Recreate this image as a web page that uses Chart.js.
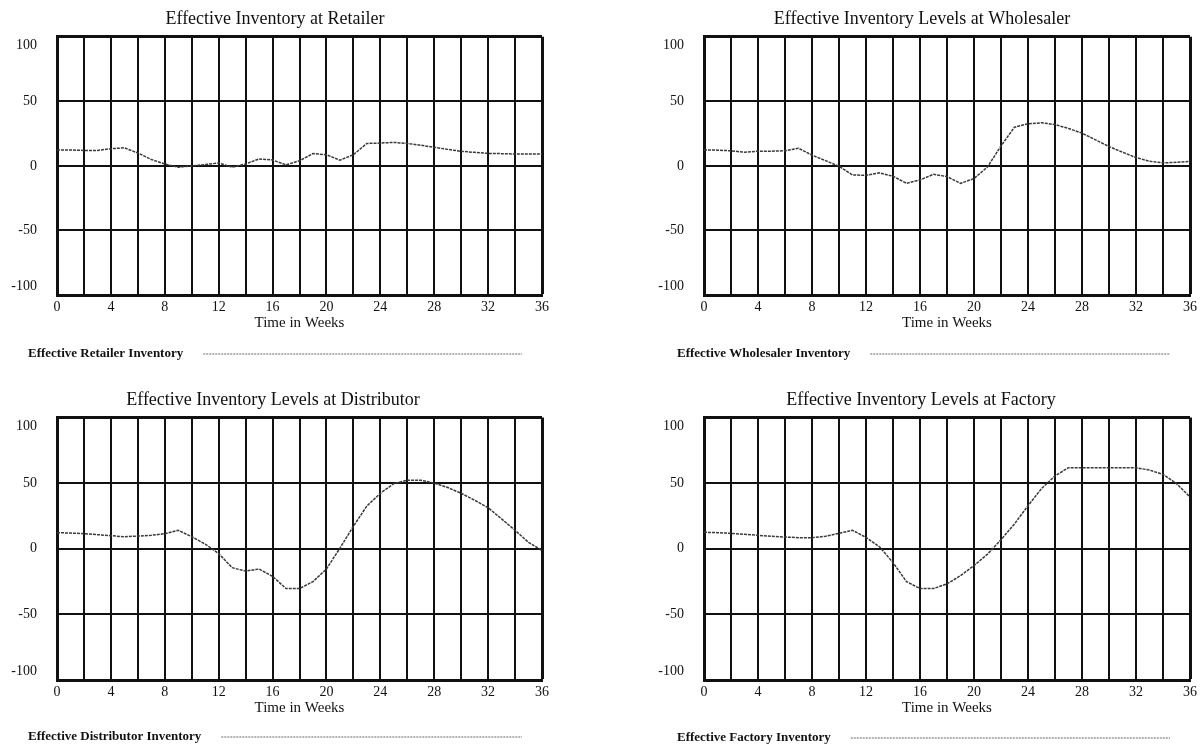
<!DOCTYPE html>
<html>
<head>
<title>Effective Inventory Levels</title>
<script src="https://cdn.jsdelivr.net/npm/chart.js"></script>
<style>
  body { margin: 0; background: #fff; }
  #wrap { position: relative; width: 1202px; height: 750px; }
  canvas { position: absolute; }
</style>
</head>
<body>
<div id="wrap">
  <canvas id="c1" width="601" height="375" style="left:0;top:0"></canvas>
  <canvas id="c2" width="601" height="375" style="left:601px;top:0"></canvas>
  <canvas id="c3" width="601" height="375" style="left:0;top:375px"></canvas>
  <canvas id="c4" width="601" height="375" style="left:601px;top:375px"></canvas>
</div>
<script>
// time axis (weeks) and tick labels
var weeks = [0, 1, 2, 3, 4, 5, 6, 7, 8, 9, 10, 11, 12, 13, 14, 15, 16, 17, 18,
             19, 20, 21, 22, 23, 24, 25, 26, 27, 28, 29, 30, 31, 32, 33, 34, 35, 36];
var xTickLabels = [0, 4, 8, 12, 16, 20, 24, 28, 32, 36];
var yTickLabels = [-100, -50, 0, 50, 100];

// effective inventory
var retailer = [12.3, 12.3, 12, 12, 13.3, 14, 10, 5, 1.5, -1, 0, 1, 2.3, -1, 1.5, 5.4, 4.6, 0.8, 4,
                9.5, 8.7, 4.4, 8.7, 17.4, 17.7, 18.2, 17.4, 16, 14.4, 12.8, 11.3, 10.5, 9.7, 9.5, 9.2, 9.2, 9.2];
var wholesaler = [12.4, 12.2, 11.7, 10.6, 11.4, 11.4, 11.7, 13.7, 8.3, 4.1, -0.3, -7, -7.3, -5.4, -8, -13.5, -10.9, -6.5, -8.3,
                  -13.5, -9.8, -0.8, 15.5, 30, 32.6, 33.4, 32, 29, 25.4, 20.2, 15, 10.6, 6.5, 3.6, 2.3, 2.8, 3.4];
var distributor = [12.3, 12, 11.5, 10.8, 10, 9.2, 9.7, 10.3, 11.5, 14.1, 9.2, 3.6, -3.6, -14.4, -17, -15.4, -21, -30.3, -30.3,
                   -25, -15.4, 0.5, 17.2, 32.6, 42.3, 49.7, 52.3, 52.3, 50, 46.7, 42.3, 37, 31.3, 22.8, 14.1, 4.9, -1.3];
var factory = [12.6, 12.3, 11.8, 11, 10.3, 9.5, 9, 8.5, 8.5, 9.5, 11.8, 14.1, 8.7, 1.5, -10.5, -25, -30.3, -30.3, -26.7,
               -20.5, -12.8, -4.1, 6.9, 19, 32.8, 45.9, 55.6, 61.8, 61.8, 61.8, 61.8, 61.8, 61.8, 60, 56.7, 49.7, 39.5];

var serif = "'Liberation Serif', 'Times New Roman', serif";

var panels = [
  { id: 'c1', title: 'Effective Inventory at Retailer', legend: 'Effective Retailer Inventory', values: retailer,
    pad: { left: 8, right: 59, top: 0, bottom: 43 }, yWidth: 49, titlePad: { top: 4, bottom: 7 },
    legendX: 28, legendY: 354, lineEnd: 522 },
  { id: 'c2', title: 'Effective Inventory Levels at Wholesaler', legend: 'Effective Wholesaler Inventory', values: wholesaler,
    pad: { left: 53, right: 12, top: 0, bottom: 43 }, yWidth: 50, titlePad: { top: 4, bottom: 7 },
    legendX: 76, legendY: 354, lineEnd: 569 },
  { id: 'c3', title: 'Effective Inventory Levels at Distributor', legend: 'Effective Distributor Inventory', values: distributor,
    pad: { left: 4, right: 59, top: 0, bottom: 33 }, yWidth: 53, titlePad: { top: 14, bottom: 7 },
    legendX: 28, legendY: 362, lineEnd: 522 },
  { id: 'c4', title: 'Effective Inventory Levels at Factory', legend: 'Effective Factory Inventory', values: factory,
    pad: { left: 51, right: 12, top: 0, bottom: 33 }, yWidth: 52, titlePad: { top: 14, bottom: 7 },
    legendX: 76, legendY: 363, lineEnd: 569 }
];

// legend drawn as "label ........" like the original printout
var legendLine = {
  id: 'legendLine',
  afterDraw: function (chart, args, opts) {
    var ctx = chart.ctx;
    ctx.save();
    ctx.font = 'bold 13px ' + serif;
    ctx.fillStyle = '#111';
    ctx.textBaseline = 'middle';
    ctx.textAlign = 'left';
    ctx.fillText(opts.text, opts.x, opts.y);
    var start = opts.x + ctx.measureText(opts.text).width + 20;
    ctx.strokeStyle = '#666';
    ctx.lineWidth = 1;
    ctx.setLineDash([2, 1]);
    ctx.beginPath();
    ctx.moveTo(start, opts.y);
    ctx.lineTo(opts.end, opts.y);
    ctx.stroke();
    ctx.restore();
  }
};

panels.forEach(function (p) {
  var points = weeks.map(function (w, i) { return { x: w, y: p.values[i] }; });
  new Chart(document.getElementById(p.id), {
    type: 'line',
    data: {
      datasets: [{
        label: p.legend,
        data: points,
        borderColor: '#3a3a3a',
        borderWidth: 1.5,
        borderDash: [3, 1],
        pointRadius: 0,
        tension: 0
      }]
    },
    options: {
      responsive: false,
      animation: false,
      devicePixelRatio: 1,
      layout: { padding: p.pad },
      plugins: {
        legend: { display: false },
        tooltip: { enabled: false },
        title: {
          display: true,
          text: p.title,
          color: '#111',
          font: { family: serif, size: 18, weight: 'normal' },
          padding: p.titlePad
        },
        legendLine: { text: p.legend, x: p.legendX, y: p.legendY, end: p.lineEnd }
      },
      scales: {
        x: {
          type: 'linear',
          min: 0,
          max: 36,
          afterFit: function (s) { s.height = 37; },
          ticks: {
            stepSize: 2,
            autoSkip: false,
            maxRotation: 0,
            padding: 4,
            color: '#111',
            font: { family: serif, size: 14 },
            callback: function (v) { return xTickLabels.indexOf(v) >= 0 ? String(v) : ''; }
          },
          grid: {
            drawTicks: false,
            color: '#111',
            lineWidth: function (c) { return (c.tick && c.tick.value === 36) ? 3 : 2; }
          },
          border: { color: '#111', width: 3 },
          title: {
            display: true,
            text: 'Time in Weeks',
            color: '#111',
            font: { family: serif, size: 15 },
            padding: 0
          }
        },
        y: {
          min: -100,
          max: 100,
          afterFit: function (s) { s.width = p.yWidth; },
          ticks: {
            stepSize: 50,
            padding: 20,
            color: '#111',
            font: { family: serif, size: 14 },
            callback: function (v) {
              if (yTickLabels.indexOf(v) < 0) return '';
              if (v === 100) return ['', String(v)];
              if (v === -100) return [String(v), ''];
              return String(v);
            }
          },
          grid: {
            drawTicks: false,
            color: '#111',
            lineWidth: function (c) { return (c.tick && c.tick.value === 100) ? 3 : 2; }
          },
          border: { color: '#111', width: 3 }
        }
      }
    },
    plugins: [legendLine]
  });
});
</script>
</body>
</html>
